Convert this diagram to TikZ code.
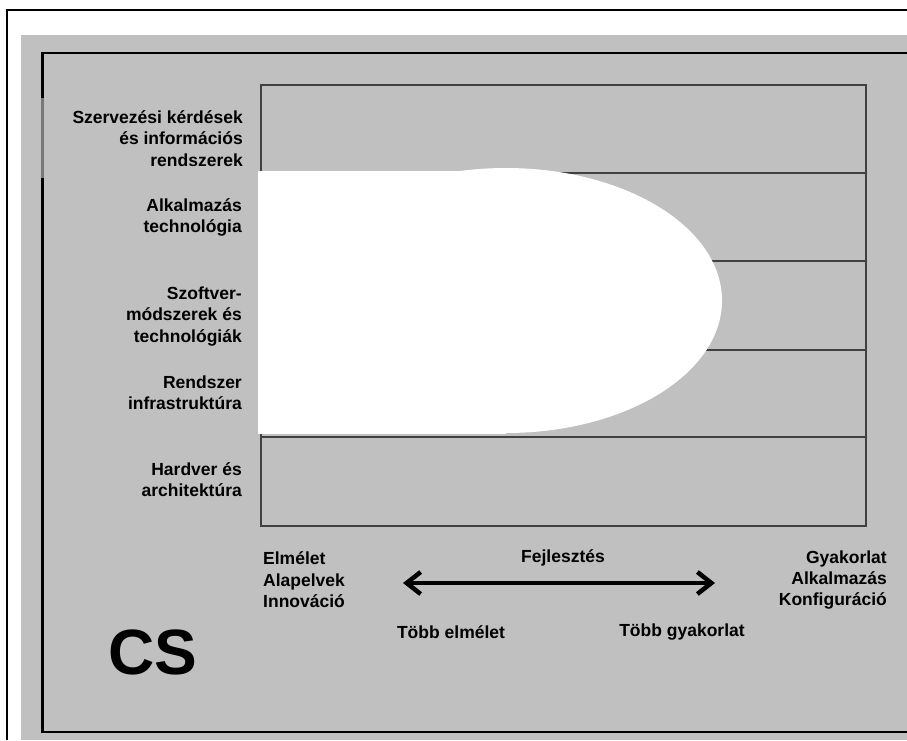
\documentclass[tikz,border=0pt]{standalone}
\usepackage{fontspec}
\setmainfont{Liberation Sans}
\usetikzlibrary{arrows.meta}
\definecolor{bggray}{RGB}{192,192,192}
\definecolor{linegray}{RGB}{64,64,64}
\definecolor{midgray}{RGB}{120,120,120}
\begin{document}
\begin{tikzpicture}[x=1pt,y=-1pt,
  lbl/.style={font=\fontsize{17.5}{21.5}\selectfont\bfseries, inner sep=0pt, align=right, anchor=east},
  lblL/.style={font=\fontsize{17.5}{21.5}\selectfont\bfseries, inner sep=0pt, align=left, anchor=west},
  lblC/.style={font=\fontsize{17.5}{21.5}\selectfont\bfseries, inner sep=0pt},
  tline/.style={draw=linegray, line width=1.5pt},
  frame/.style={draw=black, line width=2.5pt},
  bigarrow/.style={line width=4.5pt, {Straight Barb[length=14pt,width=22pt,line width=4.5pt]}-{Straight Barb[length=14pt,width=22pt,line width=4.5pt]}}
]
\useasboundingbox (0,0) rectangle (907,740);
\fill[white] (0,0) rectangle (907,740);
% outer frame
\draw[black, line width=2pt] (7,740) -- (7,10) -- (907,10);
% gray panel
\fill[bggray] (21,35) rectangle (907,740);
% inner frame
\draw[frame] (907,53) -- (42.5,53) -- (42.5,98);
\draw[draw=midgray, line width=2.5pt] (42.5,98) -- (42.5,178);
\draw[frame] (42.5,178) -- (42.5,732) -- (907,732);
% table
\draw[tline] (261,85) rectangle (866,526);
\foreach \yy in {173,261,350,437} { \draw[tline] (261,\yy) -- (866,\yy); }
% white shape
\fill[white] (258,171) rectangle (506,434);
\fill[white] (506,300.5) ellipse [x radius=216, y radius=132.5];
% row labels
\node[lbl] (r1) at (243,138.5) {Szervezési kérdések\\és információs\\rendszerek};
\node[lbl] (r2) at (242,217.5) {Alkalmazás\\technológia};
\node[lbl] (r3) at (242,316.5) {Szoftver-\\módszerek és\\technológiák};
\node[lbl] (r4) at (242,392.5) {Rendszer\\infrastruktúra};
\node[lbl] (r5) at (242,479.5) {Hardver és\\architektúra};
% bottom
\node[lblL] (theory) at (263,580) {Elmélet\\Alapelvek\\Innováció};
\node[lbl] (practice) at (887,580) {Gyakorlat\\Alkalmazás\\Konfiguráció};
\node[lblC] (dev) at (563,558) {Fejlesztés};
\node[lblC] (moreth) at (451,632) {Több elmélet};
\node[lblC] (morepr) at (682,632) {Több gyakorlat};
\coordinate (aL) at (403,583);
\coordinate (aR) at (715,583);
\draw[bigarrow] (aL) -- (aR);
\node[font=\fontsize{64}{64}\selectfont\bfseries, inner sep=0pt] (cs) at (153,652) {CS};
\end{tikzpicture}
\end{document}
